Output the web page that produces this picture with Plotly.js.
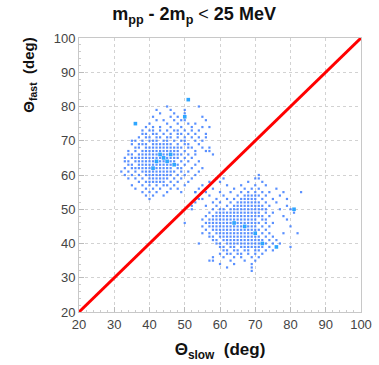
<!DOCTYPE html>
<html><head><meta charset="utf-8">
<script src="https://cdn.plot.ly/plotly-3.0.1.min.js"></script>
<style>html,body{margin:0;padding:0;background:#fff}#c{width:379px;height:365px}</style>
</head><body><div id="c"></div>
<script>
// Left cluster: rows of theta_fast (y) with list of theta_slow (x) bins
const leftRowsY = [82,80,79,78,77,76,75,74,73,72,71,70,69,68,67,66,65,64,63,62,61,60,59,58,57,56,55,54,53];
const leftRowsX = [
 [51],
 [45,54],
 [42,46,50],
 [43,47,50],
 [41,46,48,50,55],
 [42,44,47,49,50,56],
 [36,40,45,48,51,53],
 [39,41,43,46,49,52,55,57],
 [38,40,41,43,45,47,48,50,52,54],
 [38,39,41,42,44,46,48,49,51,53,56],
 [37,39,40,42,43,45,46,48,50,52,54,56],
 [35,36,38,40,41,42,44,45,47,49,50,53,55],
 [35,37,38,39,41,42,43,44,45,46,48,50,51,54],
 [36,37,39,40,41,42,43,44,45,46,47,48,49,51,52,55,57],
 [34,36,38,39,40,41,42,43,44,45,46,47,48,50,53,56,57],
 [34,35,37,38,39,40,41,42,43,44,45,46,47,48,49,51,53,58],
 [33,35,36,37,38,39,40,41,42,43,44,45,46,47,48,50,52],
 [33,34,36,37,38,39,40,41,42,43,44,45,46,47,49,51,54],
 [34,35,37,38,39,40,41,42,43,44,45,46,47,48,50,53],
 [33,35,36,37,38,39,40,41,42,43,44,45,46,48,49,52,55],
 [32,34,36,38,39,40,41,42,43,44,45,46,47,49,51,54],
 [33,35,37,39,40,41,42,43,44,45,46,48,50,53],
 [34,36,38,40,41,42,43,44,45,47,49,52],
 [37,39,40,41,42,43,44,46,48,51],
 [35,38,40,42,44,45,47,50],
 [36,39,41,43,46,48,54],
 [38,40,42,45,49,53],
 [39,41,44],
 [40]
];
// Right cluster
const rightRowsY = [60,59,58,57,56,55,54,53,52,51,50,49,48,47,46,45,44,43,42,41,40,39,38,37,36,35,34,33,32];
const rightRowsX = [
 [71],
 [61,70,71],
 [60,68,72],
 [62,66,70,73],
 [58,64,67,69,71,76],
 [56,60,63,66,68,70,72,74,78,83],
 [57,61,65,67,68,69,70,71,73,77],
 [55,59,62,64,66,67,68,69,70,72,75,79],
 [53,58,60,63,65,66,67,68,69,70,71,73,76],
 [56,59,62,64,65,66,67,68,69,70,71,72,74,79],
 [52,58,60,61,63,64,65,66,67,68,69,70,71,72,73,77,80,81],
 [57,59,60,61,62,63,64,65,66,67,68,69,70,71,73,75,81],
 [56,58,59,60,61,62,63,64,65,66,67,68,69,70,71,72,74,78],
 [55,57,58,59,60,61,62,63,64,65,66,67,68,69,70,72,73,79],
 [50,56,57,58,59,60,61,62,63,64,65,66,67,68,69,70,71,73,75],
 [55,57,58,59,60,61,62,63,64,65,66,67,68,69,70,72,74,80],
 [56,58,59,60,61,62,63,64,65,66,67,68,69,70,71,73],
 [55,57,59,60,61,62,63,64,65,66,67,68,69,70,72,74,78,82],
 [57,58,60,61,62,63,64,65,66,67,68,69,70,71,73,75],
 [58,59,61,62,63,64,65,66,67,68,69,70,71,72,74,76],
 [54,59,60,62,63,64,65,66,67,68,69,70,71,72,73,75,77],
 [60,61,63,64,66,67,68,69,70,71,72,74,76,80],
 [61,62,64,65,67,68,70,71,73,75],
 [60,62,63,65,66,68,70,72],
 [58,61,64,66,69,71],
 [57,58,63,67,70],
 [60,64,69],
 [62,69],
 [69]
];
// stray points near the diagonal
const strayX = [53,55,56,57,59,52,54];
const strayY = [55,57,56,58,59,51,53];
// high-count bins (larger boxes)
const denseX = [51,36,50,44,45,47,41,43,81,72,67,64,70,76,42,46];
const denseY = [82,75,77,65,64,63,62,66,50,40,45,46,43,39,64,66];
// diagonal
const lineX = [20,100];
const lineY = [20,100];

function flatten(ys, xs){
  const X=[],Y=[];
  ys.forEach((y,i)=>xs[i].forEach(x=>{X.push(x);Y.push(y);}));
  return [X,Y];
}
const [lx,ly] = flatten(leftRowsY,leftRowsX);
const [rx,ry] = flatten(rightRowsY,rightRowsX);
const ptX = lx.concat(rx, strayX);
const ptY = ly.concat(ry, strayY);

const traces = [
 {x:ptX, y:ptY, type:'scatter', mode:'markers',
  marker:{symbol:'square', size:2.2, color:'#3d7dff', opacity:0.85, line:{width:0}}, hoverinfo:'skip'},
 {x:denseX, y:denseY, type:'scatter', mode:'markers',
  marker:{symbol:'square', size:3.6, color:'#2ea6ff', line:{width:0}}, hoverinfo:'skip'},
 {x:lineX, y:lineY, type:'scatter', mode:'lines',
  line:{color:'#ff0000', width:3}, hoverinfo:'skip'}
];
const axisCommon = {
  range:[20,100], dtick:10, tick0:20, showgrid:true, gridcolor:'#d2d2d2', griddash:'dot', gridwidth:1,
  zeroline:false, showline:true, mirror:true, linecolor:'#c8c8c8', linewidth:1,
  ticks:'inside', ticklen:5, tickcolor:'#bbb',
  minor:{dtick:2, ticks:'inside', ticklen:2, tickcolor:'#ccc', showgrid:false},
  tickfont:{family:'Liberation Sans, Arial', size:13, color:'#444'}
};
const layout = {
  width:379, height:365, showlegend:false,
  paper_bgcolor:'#ffffff', plot_bgcolor:'#ffffff',
  margin:{l:79, r:18, t:38, b:53},
  title:{text:'m<sub>pp</sub> - 2m<sub>p</sub> <span style="font-weight:normal">&lt;</span> 25 MeV', x:0.408, xref:'paper', xanchor:'center', y:0.962, yanchor:'middle',
         font:{family:'Liberation Sans, Arial', size:18, color:'#111', weight:'bold'}},
  xaxis:Object.assign({}, axisCommon, {title:{text:'Θ<sub>slow</sub>  (deg)', standoff:12,
         font:{family:'Liberation Sans, Arial', size:17, color:'#111', weight:'bold'}}}),
  yaxis:Object.assign({}, axisCommon),
  annotations:[{text:'Θ<sub>fast</sub>  (deg)', textangle:-90, xref:'paper', yref:'paper', x:-0.175, y:0.865,
    xanchor:'center', yanchor:'middle', showarrow:false,
    font:{family:'Liberation Sans, Arial', size:15, color:'#111', weight:'bold'}}]
};
Plotly.newPlot('c', traces, layout, {displayModeBar:false, staticPlot:true});
</script></body></html>
